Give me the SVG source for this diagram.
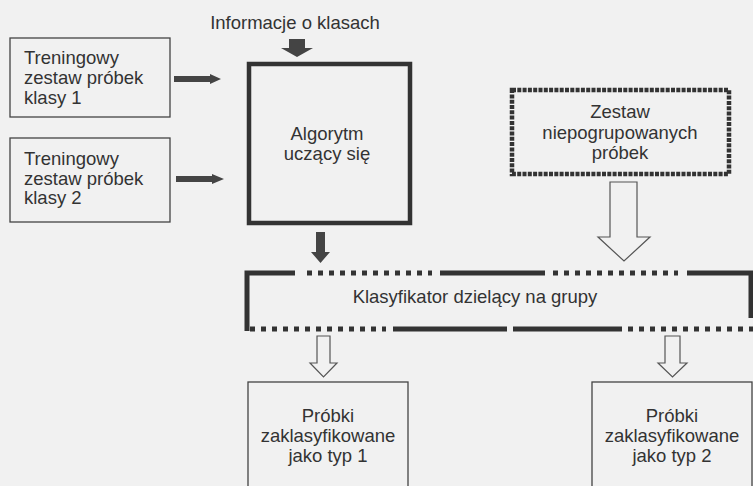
<svg xmlns="http://www.w3.org/2000/svg" width="753" height="486" viewBox="0 0 753 486">
<style>
text{font-family:"Liberation Sans",Arial,sans-serif;font-size:18.5px;fill:#333}
.thin{fill:none;stroke:#444;stroke-width:1.3}
.thick{fill:none;stroke:#333;stroke-width:4.5}
.dotbox{fill:none;stroke:#333;stroke-width:4.5;stroke-dasharray:4 1.3}
.seg{stroke:#333;stroke-width:5;fill:none}
.dots{stroke:#333;stroke-width:5;fill:none;stroke-dasharray:5 6}
.solid{fill:#444;stroke:none}
.hollow{fill:#f1f1f1;stroke:#555;stroke-width:1.2}
</style>
<rect width="753" height="486" fill="#f1f1f1"/>
<g id="n-info"><text x="295" y="29" text-anchor="middle">Informacje o klasach</text></g>
<g id="n-train1"><rect class="thin" x="10" y="38" width="160" height="79"/>
<text x="24" y="64">Treningowy</text><text x="24" y="84">zestaw próbek</text><text x="24" y="104">klasy 1</text></g>
<g id="n-train2"><rect class="thin" x="10" y="138" width="160" height="84"/>
<text x="24" y="165">Treningowy</text><text x="24" y="185">zestaw próbek</text><text x="24" y="204">klasy 2</text></g>
<g id="n-algo"><rect class="thick" x="249" y="64" width="161" height="159"/>
<text x="327" y="140" text-anchor="middle">Algorytm</text><text x="327" y="160" text-anchor="middle">uczący się</text></g>
<g id="n-zestaw"><rect class="dotbox" x="512" y="90" width="217" height="84"/>
<text x="620" y="118" text-anchor="middle">Zestaw</text><text x="620" y="139" text-anchor="middle">niepogrupowanych</text><text x="620" y="159" text-anchor="middle">próbek</text></g>
<g id="n-klas">
<path class="seg" d="M247 331 V273 H295"/>
<path class="dots" d="M307 273 H432"/>
<path class="seg" d="M440 273 H545"/>
<path class="dots" d="M553 273 H678"/>
<path class="seg" d="M687 273 H751 V318"/>
<path class="dots" d="M250 329 H386"/>
<path class="seg" d="M393 329 H507 M513 329 H622"/>
<path class="dots" d="M628 329 H753"/>
<text x="475" y="303" text-anchor="middle">Klasyfikator dzielący na grupy</text></g>
<g id="n-typ1"><rect class="thin" x="248" y="382" width="160" height="110"/>
<text x="328" y="422" text-anchor="middle">Próbki</text><text x="328" y="442" text-anchor="middle">zaklasyfikowane</text><text x="328" y="462" text-anchor="middle">jako typ 1</text></g>
<g id="n-typ2"><rect class="thin" x="592" y="382" width="160" height="110"/>
<text x="672" y="422" text-anchor="middle">Próbki</text><text x="672" y="442" text-anchor="middle">zaklasyfikowane</text><text x="672" y="462" text-anchor="middle">jako typ 2</text></g>
<g id="connectors">
<polygon class="solid" points="174,76 210,76 210,74 221,79 210,84 210,82 174,82"/>
<polygon class="solid" points="176,176 212,176 212,174 224,179 212,184 212,182 176,182"/>
<polygon class="solid" points="289,39 305,39 305,48 313,48 297,57 281,48 289,48"/>
<polygon class="solid" points="316,232 325,232 325,252 330,252 320.5,263 311,252 316,252"/>
<polygon class="hollow" points="610,182 637,182 637,237 650,237 624,261 598,237 610,237"/>
<polygon class="hollow" points="317,336 330,336 330,363 337,363 323.5,377 310,363 317,363"/>
<polygon class="hollow" points="665,336 680,336 680,363 687,363 672.5,377 658,363 665,363"/>
</g>
</svg>
